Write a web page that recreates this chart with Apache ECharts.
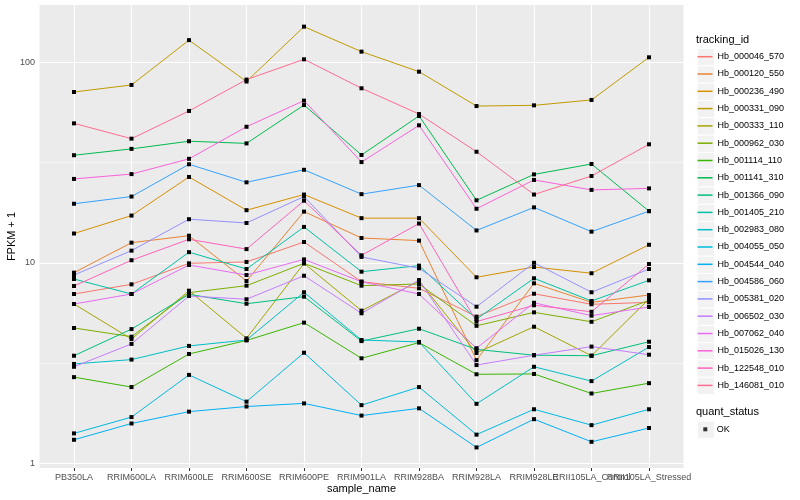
<!DOCTYPE html>
<html>
<head>
<meta charset="utf-8">
<script src="https://cdn.jsdelivr.net/npm/echarts@6/dist/echarts.min.js"></script>
<style>html,body{margin:0;padding:0;background:#fff}#c{width:800px;height:500px}</style>
</head>
<body>
<div id="c"></div>
<script>
// ---- data (values are FPKM + 1) ----
const categories = ['PB350LA','RRIM600LA','RRIM600LE','RRIM600SE','RRIM600PE','RRIM901LA','RRIM928BA','RRIM928LA','RRIM928LE','RRII105LA_Control','RRII105LA_Stressed'];
const trackingIds = ['Hb_000046_570','Hb_000120_550','Hb_000236_490','Hb_000331_090','Hb_000333_110','Hb_000962_030','Hb_001114_110','Hb_001141_310','Hb_001366_090','Hb_001405_210','Hb_002983_080','Hb_004055_050','Hb_004544_040','Hb_004586_060','Hb_005381_020','Hb_006502_030','Hb_007062_040','Hb_015026_130','Hb_122548_010','Hb_146081_010'];
const hb_000046_570 = [6.99, 7.81, 9.94, 10.1, 12.7, 8.05, 7.46, 5.39, 7.01, 6.21, 6.35];
const hb_000120_550 = [8.93, 12.6, 13.65, 8.11, 18.0, 13.3, 12.9, 3.27, 7.9, 6.35, 6.91];
const hb_000236_490 = [14.0, 17.2, 26.8, 18.3, 21.9, 16.7, 16.7, 8.47, 9.53, 8.87, 12.3];
const hb_000331_090 = [71.1, 77.1, 129, 80.2, 150.6, 113, 89.8, 60.5, 61.0, 64.9, 105.9];
const hb_000333_110 = [6.23, 4.17, 7.26, 4.20, 9.94, 5.77, 8.11, 3.55, 4.80, 3.44, 6.6];
const hb_000962_030 = [4.73, 4.28, 7.1, 7.69, 9.94, 7.69, 7.84, 4.85, 5.66, 5.08, 6.5];
const hb_001114_110 = [2.69, 2.40, 3.51, 4.10, 5.03, 3.34, 4.0, 2.78, 2.79, 2.23, 2.51];
const hb_001141_310 = [34.4, 37.0, 40.4, 39.4, 61.2, 34.5, 54.0, 20.5, 27.6, 31.1, 18.1];
const hb_001366_090 = [3.44, 4.67, 6.96, 6.25, 6.78, 4.07, 4.69, 3.70, 3.46, 3.44, 4.04];
const hb_001405_210 = [8.30, 6.99, 11.3, 9.31, 15.1, 9.03, 9.68, 5.24, 8.37, 6.45, 8.18];
const hb_002983_080 = [3.13, 3.29, 3.85, 4.12, 7.13, 4.12, 4.03, 1.98, 3.03, 2.57, 3.80];
const hb_004055_050 = [1.41, 1.70, 2.76, 2.03, 3.56, 1.95, 2.40, 1.39, 1.86, 1.55, 1.86];
const hb_004544_040 = [1.31, 1.58, 1.81, 1.92, 1.99, 1.73, 1.88, 1.20, 1.66, 1.28, 1.50];
const hb_004586_060 = [19.7, 21.4, 31.0, 25.2, 29.1, 22.0, 24.4, 14.5, 18.9, 14.3, 18.1];
const hb_005381_020 = [8.69, 11.5, 16.5, 15.8, 21.4, 10.7, 9.39, 6.04, 10.0, 7.13, 9.31];
const hb_006502_030 = [3.03, 3.94, 6.83, 6.58, 8.62, 5.6, 8.2, 3.09, 3.46, 3.82, 3.48];
const hb_007062_040 = [6.23, 6.99, 9.75, 8.69, 10.4, 8.05, 6.99, 3.75, 6.32, 5.45, 6.02];
const hb_015026_130 = [26.2, 27.7, 33.0, 47.7, 64.4, 31.8, 48.5, 18.6, 25.9, 23.1, 23.5];
const hb_122548_010 = [7.66, 10.3, 13.1, 11.7, 20.4, 10.9, 15.7, 5.09, 6.14, 5.70, 9.86];
const hb_146081_010 = [49.6, 41.6, 57.2, 82.0, 103.5, 74.2, 55.2, 35.8, 21.9, 27.1, 39.0];
const seriesValues = [hb_000046_570, hb_000120_550, hb_000236_490, hb_000331_090, hb_000333_110, hb_000962_030, hb_001114_110, hb_001141_310, hb_001366_090, hb_001405_210, hb_002983_080, hb_004055_050, hb_004544_040, hb_004586_060, hb_005381_020, hb_006502_030, hb_007062_040, hb_015026_130, hb_122548_010, hb_146081_010];
const yTickLabels = [1, 10, 100];
const yMinorBreaks = [3.1623, 31.623];
const quantStatus = ['OK'];

// ---- style ----
const palette = ['#F8766D','#EA8331','#D89000','#C09B00','#A3A500','#7CAE00','#39B600','#00BB4E','#00BF7D','#00C1A3','#00BFC4','#00BAE0','#00B0F6','#35A2FF','#9590FF','#C77CFF','#E76BF3','#FA62DB','#FF62BC','#FF6C91'];
const FONT = '"Liberation Sans", Arial, Helvetica, sans-serif';
const catIdx = categories.map((c, i) => i);
const evenIdx = catIdx.filter(i => i % 2 === 0);
const oddIdx = catIdx.filter(i => i % 2 === 1);
const keyStep = 17.3, keyTop = 48.05, keyLeft = 696.7;

const series = trackingIds.map((name, k) => ({
  name: name,
  type: 'line',
  xAxisIndex: 0,
  data: seriesValues[k].map((v, i) => [i, v]),
  symbol: 'rect',
  symbolSize: 4,
  showSymbol: true,
  itemStyle: { color: '#000' },
  lineStyle: { color: palette[k], width: 1 },
  emphasis: { disabled: true },
  z: 3
}));

// grid lines drawn via markLine on an empty helper series
const gridLines = [];
yTickLabels.forEach(v => gridLines.push({ yAxis: v, lineStyle: { width: 1.1 } }));
yMinorBreaks.forEach(v => gridLines.push({ yAxis: v, lineStyle: { width: 0.55 } }));
catIdx.forEach(v => gridLines.push({ xAxis: v, lineStyle: { width: 1.1 } }));
series.unshift({
  name: '_grid', type: 'line', data: [], silent: true, z: 1, xAxisIndex: 0,
  markLine: { silent: true, z: 1, symbol: ['none', 'none'], label: { show: false },
    lineStyle: { color: '#FFFFFF', type: 'solid' }, emphasis: { disabled: true }, animation: false, data: gridLines }
});
series.push({ name: 'OK', type: 'scatter', data: [], xAxisIndex: 0, itemStyle: { color: '#000' } });

const keyRects = [];
for (let i = 0; i < trackingIds.length; i++) {
  keyRects.push({ type: 'rect', left: keyLeft, top: keyTop + i * keyStep, z: 0,
    shape: { width: keyStep, height: keyStep }, style: { fill: '#F2F2F2', stroke: '#FFFFFF', lineWidth: 1 } });
}
keyRects.push({ type: 'rect', left: keyLeft, top: 420.65, z: 0,
  shape: { width: keyStep, height: keyStep }, style: { fill: '#F2F2F2', stroke: '#FFFFFF', lineWidth: 1 } });

// two bottom axes with alternating labels so that ECharts keeps all (overlapping) labels, like ggplot
function xAxisDef(vals, withName) {
  const ax = {
    type: 'value', min: -0.6, max: 10.6, position: 'bottom', offset: 0,
    axisLine: { show: false }, splitLine: { show: false },
    axisTick: { show: true, length: 3, lineStyle: { color: '#333333', width: 1 }, customValues: vals },
    axisLabel: { customValues: vals, formatter: v => categories[Math.round(v)], color: '#4D4D4D', fontSize: 9, margin: 5,
      showMinLabel: true, showMaxLabel: true }
  };
  if (withName) {
    ax.name = 'sample_name'; ax.nameLocation = 'middle'; ax.nameGap = 15; ax.nameMoveOverlap = false;
    ax.nameTextStyle = { fontSize: 11, color: '#000' };
  }
  return ax;
}

const option = {
  animation: false,
  textStyle: { fontFamily: FONT },
  title: [
    { text: 'tracking_id', left: 696, top: 34, padding: 0, textStyle: { fontSize: 11, fontWeight: 'normal', color: '#000', fontFamily: FONT } },
    { text: 'quant_status', left: 696, top: 406, padding: 0, textStyle: { fontSize: 11, fontWeight: 'normal', color: '#000', fontFamily: FONT } }
  ],
  grid: { left: 39.5, right: 116.5, top: 5, bottom: 32, show: true, backgroundColor: '#EBEBEB', borderWidth: 0,
    containLabel: false, outerBoundsMode: 'none' },
  xAxis: [xAxisDef(evenIdx, true), xAxisDef(oddIdx, false)],
  yAxis: {
    type: 'log', logBase: 10, min: 0.9475, max: 193.1,
    axisLine: { show: false }, splitLine: { show: false }, minorSplitLine: { show: false },
    axisTick: { show: true, length: 3, lineStyle: { color: '#333333', width: 1 }, customValues: yTickLabels },
    axisLabel: { customValues: yTickLabels, formatter: v => String(Math.round(v)), color: '#4D4D4D', fontSize: 9, margin: 4.5,
      showMinLabel: true, showMaxLabel: true },
    name: 'FPKM + 1', nameLocation: 'middle', nameRotate: 90, nameGap: 22, nameMoveOverlap: false,
    nameTextStyle: { fontSize: 11, color: '#000' }
  },
  legend: [
    {
      orient: 'vertical', left: 697.5, top: keyTop, padding: 0, itemGap: 0,
      itemWidth: 15, itemHeight: 1.5, icon: 'rect', selectedMode: false,
      textStyle: { fontSize: 9, color: '#000', lineHeight: keyStep, fontFamily: FONT },
      data: trackingIds.map((n, k) => ({ name: n, itemStyle: { color: palette[k] } }))
    },
    {
      orient: 'vertical', left: 703.3, top: 420.65, padding: 0, itemGap: 0,
      itemWidth: 4, itemHeight: 4, icon: 'rect', selectedMode: false,
      textStyle: { fontSize: 9, color: '#000', lineHeight: keyStep, fontFamily: FONT, padding: [0, 0, 0, 4.5] },
      data: quantStatus.map(n => ({ name: n, itemStyle: { color: '#000' } }))
    }
  ],
  graphic: keyRects,
  series: series
};

const chart = echarts.init(document.getElementById('c'), null, { renderer: 'canvas' });
chart.setOption(option);
</script>
</body>
</html>
